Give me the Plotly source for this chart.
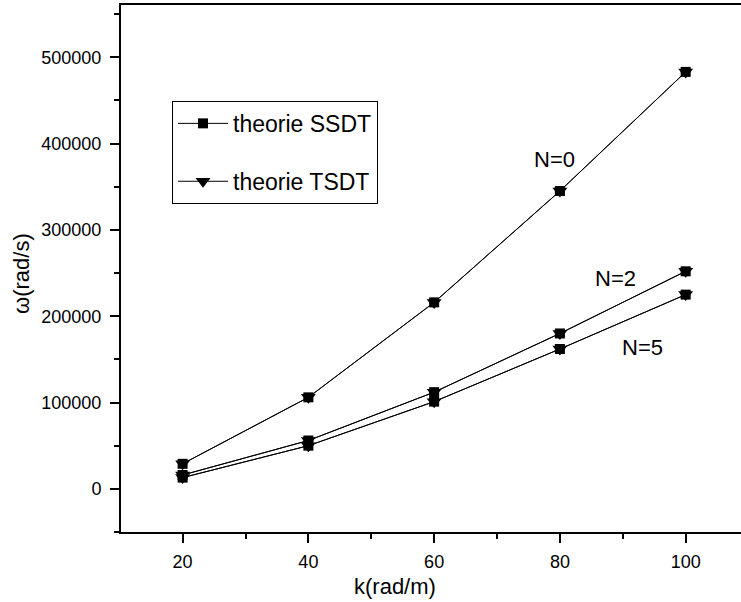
import plotly.graph_objects as go

# Wave number k (rad/m)
k = [20, 40, 60, 80, 100]

# Natural frequency omega (rad/s) for each power-law index N
ssdt_n0 = [29000, 106000, 216000, 345000, 483000]
ssdt_n2 = [16000, 56000, 112000, 180000, 252000]
ssdt_n5 = [13000, 50000, 101000, 162000, 225000]

tsdt_n0 = [29000, 106000, 216000, 345000, 483000]
tsdt_n2 = [16000, 56000, 112000, 180000, 252000]
tsdt_n5 = [13000, 50000, 101000, 162000, 225000]

curve_labels = ["N=0", "N=2", "N=5"]
# label anchor positions in data units (k, omega)
label_k = [79.2, 88.8, 93.2]
label_w = [381000, 244000, 164000]

FONT = "Liberation Sans, Arial, sans-serif"


def joined(series_list):
    """Concatenate several curves into one trace, separated by gaps."""
    xs, ys = [], []
    for s in series_list:
        xs += k + [None]
        ys += s + [None]
    return xs[:-1], ys[:-1]


fig = go.Figure()

x_s, y_s = joined([ssdt_n0, ssdt_n2, ssdt_n5])
fig.add_trace(go.Scatter(
    x=x_s, y=y_s, mode="lines+markers", name="theorie SSDT",
    legendgroup="ssdt",
    line=dict(color="black", width=1),
    marker=dict(symbol="square", size=10, color="black"),
    connectgaps=False,
))

x_t, y_t = joined([tsdt_n0, tsdt_n2, tsdt_n5])
fig.add_trace(go.Scatter(
    x=x_t, y=y_t, mode="lines+markers", name="theorie TSDT",
    legendgroup="tsdt",
    line=dict(color="black", width=1),
    marker=dict(symbol="triangle-down", size=13, color="black"),
    connectgaps=False,
))

annotations = []
for txt, xk, yw in zip(curve_labels, label_k, label_w):
    annotations.append(dict(
        x=xk, y=yw, xref="x", yref="y", text=txt, showarrow=False,
        font=dict(family=FONT, size=22, color="black"),
        xanchor="center", yanchor="middle",
    ))

# axis titles
annotations.append(dict(
    x=53.8, y=-0.1025, xref="x", yref="paper", text="k(rad/m)",
    showarrow=False, font=dict(family=FONT, size=22, color="black"),
    xanchor="center", yanchor="middle",
))
annotations.append(dict(
    x=-0.1597, y=0.4915, xref="paper", yref="paper", text="ω(rad/s)",
    showarrow=False, textangle=-90,
    font=dict(family=FONT, size=22, color="black"),
    xanchor="center", yanchor="middle",
))

fig.update_layout(
    width=741, height=602,
    margin=dict(l=121, r=0, t=5, b=70),
    paper_bgcolor="white", plot_bgcolor="white",
    showlegend=True,
    legend=dict(
        x=0.0823, y=0.818, xanchor="left", yanchor="top",
        bordercolor="black", borderwidth=1, bgcolor="white",
        font=dict(family=FONT, size=23, color="black"),
        tracegroupgap=25, itemwidth=50,
    ),
    annotations=annotations,
    font=dict(family=FONT, color="black"),
)

fig.update_xaxes(
    range=[10.2, 108.8],
    tickmode="array", tickvals=[20, 40, 60, 80, 100],
    ticks="outside", ticklen=9, tickwidth=1.5, tickcolor="black",
    minor=dict(tickmode="array", tickvals=[10, 30, 50, 70, 90],
               ticks="outside", ticklen=5, tickwidth=1.5, tickcolor="black"),
    showline=True, linecolor="black", linewidth=2, mirror=True,
    showgrid=False, zeroline=False,
    ticklabelstandoff=3,
    tickfont=dict(family=FONT, size=18, color="black"),
)

fig.update_yaxes(
    range=[-50000, 560500],
    tickmode="array", tickvals=[0, 100000, 200000, 300000, 400000, 500000],
    ticktext=["0", "100000", "200000", "300000", "400000", "500000"],
    ticks="outside", ticklen=9, tickwidth=1.5, tickcolor="black",
    minor=dict(tickmode="array",
               tickvals=[-50000, 50000, 150000, 250000, 350000, 450000, 550000],
               ticks="outside", ticklen=5, tickwidth=1.5, tickcolor="black"),
    showline=True, linecolor="black", linewidth=2, mirror=False,
    showgrid=False, zeroline=False,
    ticklabelstandoff=5,
    tickfont=dict(family=FONT, size=18, color="black"),
)

fig.write_html("out.html")
